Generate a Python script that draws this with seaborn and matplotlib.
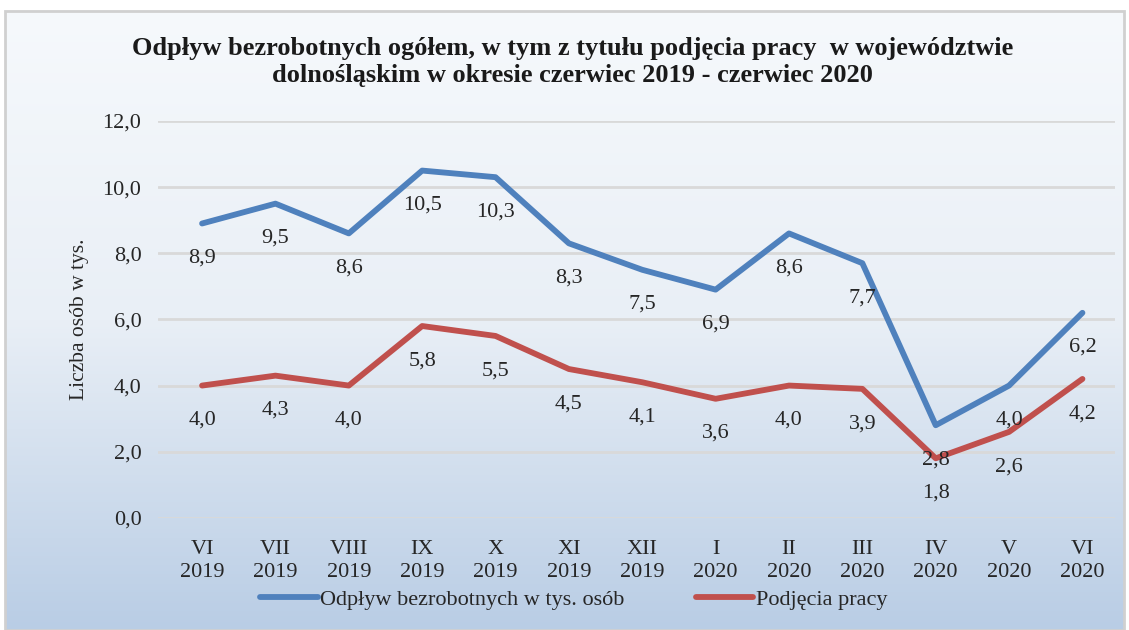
import numpy as np
import pandas as pd
import matplotlib.pyplot as plt
import seaborn as sns
from matplotlib.colors import LinearSegmentedColormap
from matplotlib.patches import Rectangle

miesiace = ["VI\n2019", "VII\n2019", "VIII\n2019", "IX\n2019", "X\n2019", "XI\n2019",
            "XII\n2019", "I\n2020", "II\n2020", "III\n2020", "IV\n2020", "V\n2020", "VI\n2020"]
odplyw = [8.9, 9.5, 8.6, 10.5, 10.3, 8.3, 7.5, 6.9, 8.6, 7.7, 2.8, 4.0, 6.2]
podjecia = [4.0, 4.3, 4.0, 5.8, 5.5, 4.5, 4.1, 3.6, 4.0, 3.9, 1.8, 2.6, 4.2]
serie = ["Odpływ bezrobotnych w tys. osób", "Podjęcia pracy"]
kolory = ["#4F81BD", "#C0504D"]

df = pd.DataFrame({
    "x": list(range(len(miesiace))) * 2,
    "wartosc": odplyw + podjecia,
    "seria": [serie[0]] * len(odplyw) + [serie[1]] * len(podjecia),
})

sns.set_theme(style="white")
plt.rcParams['font.family'] = ['Liberation Serif', 'DejaVu Serif']

fig = plt.figure(figsize=(11.29, 6.3), dpi=100)
fig.patch.set_facecolor("white")

# tło z gradientem
bg = fig.add_axes([0, 0, 1, 1], zorder=-10)
bg.set_xlim(0, 1)
bg.set_ylim(0, 1)
bg.axis("off")
cmap = LinearSegmentedColormap.from_list("tlo", ["#f6f9fc", "#e9eff6", "#b9cde5"])
grad = np.linspace(1, 0, 256).reshape(-1, 1)
bg.imshow(1 - grad, extent=[0.004, 0.996, 0.0, 0.983], aspect="auto", cmap=cmap, zorder=0)
bg.add_patch(Rectangle((0.004, 0.0), 0.992, 0.983, fill=False, edgecolor="#d0d0d0", lw=2, zorder=1))

ax = fig.add_axes([0.14, 0.178, 0.848, 0.63])
ax.set_facecolor("none")

sns.lineplot(data=df, x="x", y="wartosc", hue="seria", palette=kolory, linewidth=4.2,
             ax=ax, legend=True)

for vals in (odplyw, podjecia):
    for i, v in enumerate(vals):
        ax.annotate(f"{v:.1f}".replace(".", ","), (i, v), xytext=(0, -25),
                    textcoords="offset points", ha="center", va="center",
                    fontsize=16, color="#262626")

ax.set_xlim(-0.6, 12.45)
ax.set_ylim(0, 12)
ax.set_yticks(np.arange(0, 12.1, 2))
ax.set_yticklabels([f"{t:.1f}".replace(".", ",") for t in np.arange(0, 12.1, 2)], fontsize=16, color="#262626")
ax.set_xticks(range(len(miesiace)))
ax.set_xticklabels(miesiace, fontsize=16, color="#262626", linespacing=1.3)
ax.tick_params(axis="y", length=0, pad=12)
ax.tick_params(axis="x", length=0, pad=16)
ax.grid(axis="y", color="#d9d9d9", linewidth=2)
ax.set_axisbelow(True)
for s in ax.spines.values():
    s.set_visible(False)
ax.set_xlabel("")
ax.set_ylabel("Liczba osób w tys.", fontsize=15.5, color="#262626", labelpad=10)

fig.text(0.507, 0.902,
         "Odpływ bezrobotnych ogółem, w tym z tytułu podjęcia pracy  w województwie\n"
         "dolnośląskim w okresie czerwiec 2019 - czerwiec 2020",
         ha="center", va="center", fontsize=19, fontweight="bold", color="#1a1a1a",
         linespacing=1.2)

handles, labels = ax.get_legend_handles_labels()
ax.get_legend().remove()
leg = fig.legend(handles, labels, loc="center", bbox_to_anchor=(0.508, 0.048), ncol=2,
                 frameon=False, fontsize=16, handlelength=2.6, handletextpad=0.1,
                 columnspacing=3.2)
for t in leg.get_texts():
    t.set_color("#262626")

fig.savefig("out.png", dpi=100)
